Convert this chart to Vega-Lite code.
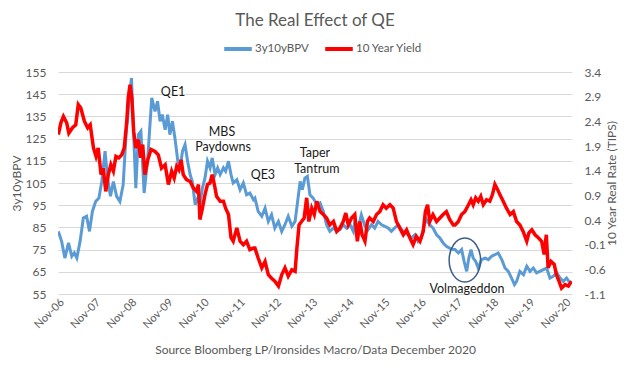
{
  "$schema": "https://vega.github.io/schema/vega-lite/v6.json",
  "width": 514,
  "height": 222,
  "autosize": {"type": "none"},
  "padding": {"left": 58, "top": 72, "right": 63, "bottom": 73},
  "background": "white",
  "config": {"font": "Lato", "view": {"stroke": null}},
  "title": {"text": "The Real Effect of QE", "fontSize": 17, "fontWeight": "normal", "color": "#595959", "offset": 3, "anchor": "middle", "font": "Lato"},
  "datasets": {
    "bpv": [
      {"year": 2006.84, "bpv": 83.2}, {"year": 2006.93, "bpv": 78.7}, {"year": 2007.02, "bpv": 71.2}, {"year": 2007.12, "bpv": 78.0},
      {"year": 2007.21, "bpv": 72.0}, {"year": 2007.28, "bpv": 73.5}, {"year": 2007.35, "bpv": 71.2}, {"year": 2007.44, "bpv": 78.7},
      {"year": 2007.53, "bpv": 89.2}, {"year": 2007.62, "bpv": 90.0}, {"year": 2007.70, "bpv": 83.2}, {"year": 2007.78, "bpv": 92.2},
      {"year": 2007.87, "bpv": 96.7}, {"year": 2007.96, "bpv": 98.2}, {"year": 2008.04, "bpv": 105.7}, {"year": 2008.13, "bpv": 119.3},
      {"year": 2008.20, "bpv": 107.2}, {"year": 2008.28, "bpv": 99.0}, {"year": 2008.36, "bpv": 105.7}, {"year": 2008.45, "bpv": 99.0},
      {"year": 2008.54, "bpv": 96.7}, {"year": 2008.63, "bpv": 104.2}, {"year": 2008.71, "bpv": 126.8}, {"year": 2008.79, "bpv": 141.8},
      {"year": 2008.86, "bpv": 152.3}, {"year": 2008.92, "bpv": 126.8}, {"year": 2008.98, "bpv": 102.7}, {"year": 2009.05, "bpv": 126.8},
      {"year": 2009.12, "bpv": 128.3}, {"year": 2009.21, "bpv": 100.5}, {"year": 2009.31, "bpv": 116.3}, {"year": 2009.42, "bpv": 143.3},
      {"year": 2009.51, "bpv": 137.3}, {"year": 2009.58, "bpv": 141.8}, {"year": 2009.65, "bpv": 132.8}, {"year": 2009.71, "bpv": 135.8},
      {"year": 2009.79, "bpv": 129.0}, {"year": 2009.86, "bpv": 135.8}, {"year": 2009.92, "bpv": 126.8}, {"year": 2009.99, "bpv": 132.8},
      {"year": 2010.06, "bpv": 125.3}, {"year": 2010.14, "bpv": 114.8}, {"year": 2010.20, "bpv": 111.8}, {"year": 2010.27, "bpv": 119.3},
      {"year": 2010.34, "bpv": 122.3}, {"year": 2010.41, "bpv": 114.8}, {"year": 2010.48, "bpv": 108.8}, {"year": 2010.54, "bpv": 105.7},
      {"year": 2010.62, "bpv": 95.2}, {"year": 2010.69, "bpv": 98.2}, {"year": 2010.75, "bpv": 95.2}, {"year": 2010.82, "bpv": 102.7},
      {"year": 2010.89, "bpv": 107.2}, {"year": 2010.96, "bpv": 114.8}, {"year": 2011.03, "bpv": 111.8}, {"year": 2011.09, "bpv": 116.3},
      {"year": 2011.17, "bpv": 108.8}, {"year": 2011.24, "bpv": 111.8}, {"year": 2011.31, "bpv": 108.8}, {"year": 2011.40, "bpv": 111.8},
      {"year": 2011.46, "bpv": 110.3}, {"year": 2011.54, "bpv": 114.8}, {"year": 2011.61, "bpv": 108.8}, {"year": 2011.67, "bpv": 105.0},
      {"year": 2011.77, "bpv": 106.5}, {"year": 2011.86, "bpv": 102.0}, {"year": 2011.95, "bpv": 105.0}, {"year": 2012.04, "bpv": 99.7},
      {"year": 2012.13, "bpv": 100.5}, {"year": 2012.23, "bpv": 97.5}, {"year": 2012.27, "bpv": 98.2}, {"year": 2012.36, "bpv": 92.2},
      {"year": 2012.46, "bpv": 90.0}, {"year": 2012.55, "bpv": 93.7}, {"year": 2012.64, "bpv": 87.7}, {"year": 2012.73, "bpv": 90.7},
      {"year": 2012.82, "bpv": 84.7}, {"year": 2012.92, "bpv": 87.7}, {"year": 2013.01, "bpv": 83.2}, {"year": 2013.10, "bpv": 86.2},
      {"year": 2013.19, "bpv": 90.0}, {"year": 2013.29, "bpv": 85.5}, {"year": 2013.38, "bpv": 87.7}, {"year": 2013.45, "bpv": 96.7},
      {"year": 2013.52, "bpv": 105.7}, {"year": 2013.58, "bpv": 102.0}, {"year": 2013.65, "bpv": 107.2}, {"year": 2013.72, "bpv": 108.0},
      {"year": 2013.79, "bpv": 99.7}, {"year": 2013.88, "bpv": 98.2}, {"year": 2013.98, "bpv": 95.2}, {"year": 2014.07, "bpv": 96.0},
      {"year": 2014.16, "bpv": 92.2}, {"year": 2014.25, "bpv": 86.2}, {"year": 2014.34, "bpv": 83.2}, {"year": 2014.44, "bpv": 84.7},
      {"year": 2014.53, "bpv": 83.2}, {"year": 2014.62, "bpv": 84.0}, {"year": 2014.71, "bpv": 86.2}, {"year": 2014.80, "bpv": 84.7},
      {"year": 2014.90, "bpv": 86.2}, {"year": 2014.99, "bpv": 83.2}, {"year": 2015.03, "bpv": 87.7}, {"year": 2015.12, "bpv": 84.7},
      {"year": 2015.21, "bpv": 90.7}, {"year": 2015.31, "bpv": 85.5}, {"year": 2015.40, "bpv": 84.0}, {"year": 2015.49, "bpv": 86.2},
      {"year": 2015.58, "bpv": 84.7}, {"year": 2015.67, "bpv": 87.7}, {"year": 2015.77, "bpv": 86.2}, {"year": 2015.86, "bpv": 85.5},
      {"year": 2015.95, "bpv": 84.7}, {"year": 2016.04, "bpv": 83.2}, {"year": 2016.13, "bpv": 84.7}, {"year": 2016.23, "bpv": 86.2},
      {"year": 2016.32, "bpv": 84.0}, {"year": 2016.41, "bpv": 82.5}, {"year": 2016.50, "bpv": 81.7}, {"year": 2016.60, "bpv": 80.2},
      {"year": 2016.69, "bpv": 81.7}, {"year": 2016.78, "bpv": 78.7}, {"year": 2016.87, "bpv": 80.2}, {"year": 2016.95, "bpv": 86.2},
      {"year": 2017.01, "bpv": 88.5}, {"year": 2017.10, "bpv": 86.2}, {"year": 2017.19, "bpv": 84.7}, {"year": 2017.29, "bpv": 81.7},
      {"year": 2017.38, "bpv": 80.2}, {"year": 2017.47, "bpv": 78.0}, {"year": 2017.56, "bpv": 76.5}, {"year": 2017.65, "bpv": 75.7},
      {"year": 2017.75, "bpv": 75.0}, {"year": 2017.80, "bpv": 75.0}, {"year": 2017.89, "bpv": 73.5}, {"year": 2017.98, "bpv": 75.0},
      {"year": 2018.05, "bpv": 69.7}, {"year": 2018.12, "bpv": 65.2}, {"year": 2018.18, "bpv": 71.2}, {"year": 2018.24, "bpv": 75.0},
      {"year": 2018.30, "bpv": 71.2}, {"year": 2018.37, "bpv": 69.7}, {"year": 2018.44, "bpv": 66.7}, {"year": 2018.53, "bpv": 70.5},
      {"year": 2018.63, "bpv": 71.2}, {"year": 2018.72, "bpv": 70.5}, {"year": 2018.81, "bpv": 72.0}, {"year": 2018.90, "bpv": 72.7},
      {"year": 2018.99, "bpv": 73.5}, {"year": 2019.09, "bpv": 70.5}, {"year": 2019.18, "bpv": 66.7}, {"year": 2019.27, "bpv": 65.2},
      {"year": 2019.36, "bpv": 62.2}, {"year": 2019.44, "bpv": 59.2}, {"year": 2019.50, "bpv": 60.7}, {"year": 2019.59, "bpv": 65.2},
      {"year": 2019.69, "bpv": 63.7}, {"year": 2019.78, "bpv": 67.5}, {"year": 2019.87, "bpv": 65.2}, {"year": 2019.96, "bpv": 66.7},
      {"year": 2020.05, "bpv": 64.5}, {"year": 2020.14, "bpv": 65.2}, {"year": 2020.24, "bpv": 66.0}, {"year": 2020.33, "bpv": 66.7},
      {"year": 2020.42, "bpv": 62.2}, {"year": 2020.51, "bpv": 63.0}, {"year": 2020.61, "bpv": 64.5}, {"year": 2020.70, "bpv": 62.2},
      {"year": 2020.79, "bpv": 60.7}, {"year": 2020.88, "bpv": 62.2}, {"year": 2020.97, "bpv": 60.0}
    ],
    "tips": [
      {"year": 2006.84, "tips": 2.13}, {"year": 2006.91, "tips": 2.37}, {"year": 2006.98, "tips": 2.50}, {"year": 2007.07, "tips": 2.37},
      {"year": 2007.13, "tips": 2.16}, {"year": 2007.23, "tips": 2.27}, {"year": 2007.32, "tips": 2.33}, {"year": 2007.39, "tips": 2.74},
      {"year": 2007.46, "tips": 2.67}, {"year": 2007.56, "tips": 2.40}, {"year": 2007.65, "tips": 2.27}, {"year": 2007.72, "tips": 2.33},
      {"year": 2007.81, "tips": 1.86}, {"year": 2007.88, "tips": 1.69}, {"year": 2007.94, "tips": 1.86}, {"year": 2008.02, "tips": 1.32},
      {"year": 2008.08, "tips": 1.45}, {"year": 2008.15, "tips": 0.98}, {"year": 2008.22, "tips": 1.32}, {"year": 2008.29, "tips": 1.52},
      {"year": 2008.36, "tips": 1.39}, {"year": 2008.43, "tips": 1.69}, {"year": 2008.51, "tips": 1.66}, {"year": 2008.59, "tips": 1.72},
      {"year": 2008.66, "tips": 1.86}, {"year": 2008.73, "tips": 2.40}, {"year": 2008.77, "tips": 2.87}, {"year": 2008.82, "tips": 3.14},
      {"year": 2008.87, "tips": 2.87}, {"year": 2008.92, "tips": 2.20}, {"year": 2008.98, "tips": 1.86}, {"year": 2009.05, "tips": 2.03},
      {"year": 2009.11, "tips": 1.66}, {"year": 2009.17, "tips": 1.93}, {"year": 2009.23, "tips": 1.32}, {"year": 2009.31, "tips": 1.62},
      {"year": 2009.40, "tips": 1.83}, {"year": 2009.51, "tips": 1.79}, {"year": 2009.60, "tips": 1.72}, {"year": 2009.69, "tips": 1.45},
      {"year": 2009.79, "tips": 1.52}, {"year": 2009.88, "tips": 1.12}, {"year": 2009.97, "tips": 1.39}, {"year": 2010.04, "tips": 1.25},
      {"year": 2010.11, "tips": 1.49}, {"year": 2010.17, "tips": 1.42}, {"year": 2010.23, "tips": 1.62}, {"year": 2010.29, "tips": 1.32},
      {"year": 2010.38, "tips": 1.22}, {"year": 2010.48, "tips": 1.18}, {"year": 2010.57, "tips": 1.05}, {"year": 2010.66, "tips": 0.98},
      {"year": 2010.71, "tips": 1.12}, {"year": 2010.75, "tips": 0.41}, {"year": 2010.82, "tips": 0.64}, {"year": 2010.89, "tips": 0.91},
      {"year": 2010.96, "tips": 1.12}, {"year": 2011.03, "tips": 1.15}, {"year": 2011.09, "tips": 1.32}, {"year": 2011.15, "tips": 1.12},
      {"year": 2011.21, "tips": 0.88}, {"year": 2011.31, "tips": 0.78}, {"year": 2011.40, "tips": 0.78}, {"year": 2011.46, "tips": 0.64},
      {"year": 2011.54, "tips": 0.51}, {"year": 2011.61, "tips": 0.04}, {"year": 2011.67, "tips": -0.03}, {"year": 2011.77, "tips": 0.24},
      {"year": 2011.86, "tips": -0.03}, {"year": 2011.95, "tips": -0.10}, {"year": 2012.04, "tips": -0.03}, {"year": 2012.13, "tips": -0.20},
      {"year": 2012.23, "tips": -0.17}, {"year": 2012.27, "tips": -0.17}, {"year": 2012.36, "tips": -0.37}, {"year": 2012.46, "tips": -0.57},
      {"year": 2012.55, "tips": -0.44}, {"year": 2012.64, "tips": -0.71}, {"year": 2012.73, "tips": -0.78}, {"year": 2012.82, "tips": -0.84},
      {"year": 2012.92, "tips": -0.94}, {"year": 2013.01, "tips": -0.71}, {"year": 2013.10, "tips": -0.57}, {"year": 2013.19, "tips": -0.74},
      {"year": 2013.29, "tips": -0.61}, {"year": 2013.38, "tips": -0.64}, {"year": 2013.43, "tips": -0.17}, {"year": 2013.49, "tips": 0.30},
      {"year": 2013.56, "tips": 0.37}, {"year": 2013.63, "tips": 0.44}, {"year": 2013.70, "tips": 0.85}, {"year": 2013.76, "tips": 0.37},
      {"year": 2013.84, "tips": 0.64}, {"year": 2013.91, "tips": 0.51}, {"year": 2013.98, "tips": 0.78}, {"year": 2014.07, "tips": 0.57},
      {"year": 2014.16, "tips": 0.51}, {"year": 2014.25, "tips": 0.44}, {"year": 2014.34, "tips": 0.30}, {"year": 2014.44, "tips": 0.37},
      {"year": 2014.53, "tips": 0.17}, {"year": 2014.62, "tips": 0.24}, {"year": 2014.71, "tips": 0.37}, {"year": 2014.78, "tips": 0.54},
      {"year": 2014.85, "tips": 0.30}, {"year": 2014.94, "tips": 0.44}, {"year": 2015.03, "tips": 0.51}, {"year": 2015.10, "tips": -0.03},
      {"year": 2015.17, "tips": 0.37}, {"year": 2015.23, "tips": 0.10}, {"year": 2015.31, "tips": -0.03}, {"year": 2015.38, "tips": 0.37},
      {"year": 2015.44, "tips": 0.44}, {"year": 2015.54, "tips": 0.37}, {"year": 2015.63, "tips": 0.51}, {"year": 2015.72, "tips": 0.57},
      {"year": 2015.81, "tips": 0.71}, {"year": 2015.90, "tips": 0.64}, {"year": 2016.00, "tips": 0.71}, {"year": 2016.09, "tips": 0.64},
      {"year": 2016.18, "tips": 0.37}, {"year": 2016.27, "tips": 0.24}, {"year": 2016.37, "tips": 0.10}, {"year": 2016.46, "tips": 0.20},
      {"year": 2016.55, "tips": 0.04}, {"year": 2016.64, "tips": -0.10}, {"year": 2016.73, "tips": 0.07}, {"year": 2016.83, "tips": -0.03},
      {"year": 2016.92, "tips": 0.17}, {"year": 2016.98, "tips": 0.57}, {"year": 2017.04, "tips": 0.71}, {"year": 2017.10, "tips": 0.37},
      {"year": 2017.19, "tips": 0.51}, {"year": 2017.29, "tips": 0.37}, {"year": 2017.38, "tips": 0.44}, {"year": 2017.47, "tips": 0.51},
      {"year": 2017.56, "tips": 0.57}, {"year": 2017.65, "tips": 0.41}, {"year": 2017.75, "tips": 0.30}, {"year": 2017.80, "tips": 0.30},
      {"year": 2017.89, "tips": 0.37}, {"year": 2017.98, "tips": 0.51}, {"year": 2018.07, "tips": 0.57}, {"year": 2018.17, "tips": 0.71},
      {"year": 2018.24, "tips": 0.81}, {"year": 2018.30, "tips": 0.71}, {"year": 2018.37, "tips": 0.85}, {"year": 2018.44, "tips": 0.78},
      {"year": 2018.51, "tips": 0.88}, {"year": 2018.58, "tips": 0.71}, {"year": 2018.67, "tips": 0.81}, {"year": 2018.76, "tips": 0.78},
      {"year": 2018.83, "tips": 0.91}, {"year": 2018.90, "tips": 1.12}, {"year": 2018.98, "tips": 1.01}, {"year": 2019.04, "tips": 0.91},
      {"year": 2019.13, "tips": 0.78}, {"year": 2019.22, "tips": 0.64}, {"year": 2019.32, "tips": 0.51}, {"year": 2019.41, "tips": 0.57},
      {"year": 2019.50, "tips": 0.37}, {"year": 2019.59, "tips": 0.30}, {"year": 2019.68, "tips": 0.17}, {"year": 2019.78, "tips": -0.03},
      {"year": 2019.84, "tips": 0.14}, {"year": 2019.92, "tips": 0.20}, {"year": 2020.01, "tips": 0.10}, {"year": 2020.10, "tips": 0.04},
      {"year": 2020.19, "tips": -0.03}, {"year": 2020.26, "tips": -0.30}, {"year": 2020.32, "tips": 0.10}, {"year": 2020.37, "tips": -0.57},
      {"year": 2020.45, "tips": -0.44}, {"year": 2020.54, "tips": -0.50}, {"year": 2020.60, "tips": -0.71}, {"year": 2020.67, "tips": -0.84},
      {"year": 2020.74, "tips": -0.98}, {"year": 2020.84, "tips": -0.91}, {"year": 2020.93, "tips": -0.94}, {"year": 2021.02, "tips": -0.84}
    ],
    "notes": [
      {"year": 2010.01, "value": 146.1, "label": "QE1"},
      {"year": 2011.36, "value": 128.1, "label": "MBS"},
      {"year": 2011.39, "value": 121.0, "label": "Paydowns"},
      {"year": 2012.49, "value": 108.6, "label": "QE3"},
      {"year": 2013.93, "value": 118.3, "label": "Taper"},
      {"year": 2013.98, "value": 111.3, "label": "Tantrum"},
      {"year": 2018.13, "value": 57.3, "label": "Volmageddon"}
    ],
    "circle": [
      {"year": 2018.07, "value": 70.3}
    ]
  },
  "encoding": {
    "x": {
      "field": "year",
      "type": "quantitative",
      "scale": {"domain": [2006.83, 2021.03], "nice": false, "zero": false},
      "axis": {
        "values": [2006.83, 2007.83, 2008.83, 2009.83, 2010.83, 2011.83, 2012.83, 2013.83, 2014.83, 2015.83, 2016.83, 2017.83, 2018.83, 2019.83, 2020.83],
        "labelExpr": "'Nov-' + format(round(datum.value - 0.83) % 100, '02d')",
        "labelAngle": -45,
        "labelAlign": "right",
        "labelBaseline": "top",
        "labelFontSize": 11,
        "labelColor": "#595959",
        "labelPadding": 2,
        "labelOverlap": false,
        "labelFlush": false,
        "labelBound": false,
        "ticks": false,
        "tickSize": 0,
        "domain": false,
        "grid": false,
        "title": "Source Bloomberg LP/Ironsides Macro/Data December 2020",
        "titleFontSize": 12,
        "titleFontWeight": "normal",
        "titleColor": "#595959",
        "titlePadding": 15
      }
    }
  },
  "layer": [
    {
      "data": {"name": "bpv"},
      "mark": {"type": "line", "strokeWidth": 3, "clip": true},
      "encoding": {
        "y": {
          "field": "bpv",
          "type": "quantitative",
          "scale": {"domain": [55, 155], "nice": false, "zero": false},
          "axis": {
            "values": [55, 65, 75, 85, 95, 105, 115, 125, 135, 145, 155],
            "title": "3y10yBPV",
            "grid": true,
            "gridColor": "#d9d9d9",
            "gridWidth": 1,
            "domain": false,
            "ticks": false,
            "tickSize": 0,
            "labelPadding": 12,
            "labelFontSize": 12,
            "labelColor": "#595959",
            "titleFontSize": 12,
            "titleFontWeight": "normal",
            "titleColor": "#595959",
            "titlePadding": 2
          }
        },
        "color": {
          "datum": "3y10yBPV",
          "scale": {"domain": ["3y10yBPV", "10 Year Yield"], "range": ["#5B9BD5", "#FF0000"]},
          "legend": {
            "orient": "none",
            "legendX": 164,
            "legendY": -39,
            "title": null,
            "direction": "horizontal",
            "padding": 0,
            "gridAlign": "none",
            "symbolType": "stroke",
            "symbolStrokeWidth": 4,
            "symbolSize": 760,
            "labelFontSize": 11.5,
            "labelColor": "#595959",
            "labelOffset": 1,
            "columnPadding": 8
          }
        }
      }
    },
    {
      "data": {"name": "tips"},
      "mark": {"type": "line", "strokeWidth": 3.5, "clip": true},
      "encoding": {
        "y": {
          "field": "tips",
          "type": "quantitative",
          "scale": {"domain": [-1.1, 3.4], "nice": false, "zero": false},
          "axis": {
            "orient": "right",
            "values": [-1.1, -0.6, -0.1, 0.4, 0.9, 1.4, 1.9, 2.4, 2.9, 3.4],
            "labelExpr": "replace(format(datum.value, '.1f'), '\u2212', '-')",
            "title": "10 Year Real Rate (TIPS)",
            "titleAngle": 270,
            "titleBaseline": "top",
            "grid": false,
            "domain": false,
            "ticks": false,
            "tickSize": 0,
            "labelPadding": 12,
            "labelFontSize": 12,
            "labelColor": "#595959",
            "titleFontSize": 12,
            "titleFontWeight": "normal",
            "titleColor": "#595959",
            "titlePadding": 1
          }
        },
        "color": {"datum": "10 Year Yield"}
      }
    },
    {
      "data": {"name": "notes"},
      "mark": {"type": "text", "fontSize": 12.5, "color": "#1a1a1a", "align": "center", "baseline": "middle", "font": "Lato"},
      "encoding": {
        "y": {"field": "value", "type": "quantitative", "scale": {"domain": [55, 155], "nice": false, "zero": false}, "axis": null},
        "text": {"field": "label"}
      }
    },
    {
      "data": {"name": "circle"},
      "mark": {"type": "point", "shape": "M 0 -1 A 0.714 1 0 1 1 0 1 A 0.714 1 0 1 1 0 -1 Z", "size": 1936, "filled": false, "stroke": "#3B5E8C", "strokeWidth": 1.5, "opacity": 1},
      "encoding": {
        "y": {"field": "value", "type": "quantitative", "scale": {"domain": [55, 155], "nice": false, "zero": false}, "axis": null}
      }
    }
  ],
  "resolve": {"scale": {"y": "independent"}}
}
